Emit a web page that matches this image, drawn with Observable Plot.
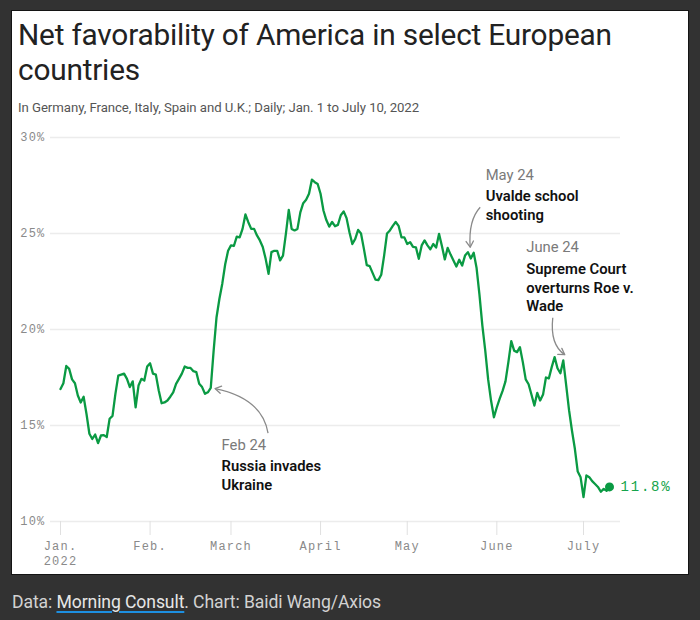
<!DOCTYPE html>
<html>
<head>
<meta charset="utf-8">
<script src="https://cdn.jsdelivr.net/npm/d3@7"></script>
<script src="https://cdn.jsdelivr.net/npm/@observablehq/plot@0.6"></script>
<style>
  html, body { margin: 0; padding: 0; background: #323232; width: 700px; height: 620px; overflow: hidden; }
  #card { position: absolute; left: 11px; top: 10px; width: 678px; height: 565px; background: #fff; border: 1px solid #141414; box-sizing: border-box; }
  #title { position: absolute; left: 18px; top: 17px; width: 660px; margin: 0; font-family: Roboto, sans-serif; font-weight: 400; font-size: 29.8px; line-height: 35px; color: #222; letter-spacing: -0.2px; }
  #subtitle { position: absolute; left: 18px; top: 100px; margin: 0; font-family: Roboto, sans-serif; font-size: 13.2px; color: #555; letter-spacing: -0.05px; }
  #chart { position: absolute; left: 0; top: 125px; }
  #footer { position: absolute; left: 12px; top: 592px; font-family: Roboto, sans-serif; font-size: 17.6px; color: #d2d2d2; letter-spacing: -0.1px; }
  #footer span.src { color: #e6e6e6; text-decoration: underline; text-decoration-color: #1d8fe0; text-decoration-thickness: 2px; text-underline-offset: 3px; }
  .chart g[aria-label="y-axis tick label"] text, .chart g[aria-label="x-axis tick label"] text, .chart .year text { letter-spacing: 1.2px; }
  .chart .endlabel text { letter-spacing: 1.8px; }
</style>
</head>
<body>
<div id="card"></div>
<h1 id="title">Net favorability of America in select European countries</h1>
<p id="subtitle">In Germany, France, Italy, Spain and U.K.; Daily; Jan. 1 to July 10, 2022</p>
<div id="chart"></div>
<div id="footer">Data: <span class="src">Morning Consult</span>. Chart: Baidi Wang/Axios</div>
<script>
// ---- Data ----
const startDate = "2022-01-01";
// Daily net favorability (%), Jan 1 – Jul 10, 2022
const favorability = [
  16.9, 17.2, 18.1, 17.95, 17.4, 17.2, 16.56, 16.2, 16.5, 15.6,
  14.57, 14.3, 14.53, 14.08, 14.48, 14.5, 14.4, 15.35, 15.5, 16.65,
  17.6, 17.65, 17.7, 17.43, 17.0, 17.3, 15.95, 17.08, 17.43, 17.34,
  18.07, 18.24, 17.7, 17.65, 16.82, 16.16, 16.2, 16.3, 16.5, 16.73,
  17.17, 17.43, 17.7, 18.07, 18.0, 18.0, 17.83, 17.78, 17.17, 17.0,
  16.65, 16.73, 16.96, 18.9, 20.64, 21.6, 22.4, 23.4, 24.1, 24.38,
  24.35, 24.84, 24.8, 25.24, 25.99, 25.59, 25.24, 25.24, 24.9, 24.64,
  24.3, 23.68, 22.9, 24.03, 24.1, 24.1, 23.6, 23.85, 24.98, 26.23,
  25.24, 25.16, 25.24, 26.1, 26.58, 26.76, 27.07, 27.8, 27.67, 27.58,
  27.07, 26.2, 25.7, 25.36, 25.6, 25.38, 25.45, 25.95, 26.15, 25.8,
  25.07, 24.45, 24.72, 25.19, 25.0, 24.2, 23.35, 23.3, 22.95, 22.6,
  22.57, 22.85, 23.85, 25.0, 25.16, 25.4, 25.6, 25.4, 24.8, 24.8,
  24.45, 24.55, 24.3, 24.28, 23.68, 24.38, 24.64, 24.38, 24.18, 24.45,
  24.27, 24.98, 24.35, 23.65, 24.25, 23.9, 23.59, 23.28, 23.63, 23.33,
  23.85, 24.03, 23.7, 24.0, 23.2, 21.8, 20.2, 18.9, 17.4, 16.3,
  15.43, 15.95, 16.4, 16.8, 17.3, 18.3, 19.39, 18.9, 18.82, 19.08,
  18.3, 17.4, 17.15, 16.6, 16.04, 16.7, 16.3, 16.61, 17.5, 17.45,
  18.04, 18.56, 17.98, 17.72, 18.39, 17.1, 15.8, 14.74, 13.8, 12.6,
  12.3, 11.27, 12.4, 12.31, 12.1, 11.95, 11.8, 11.55, 11.7, 11.6,
  11.8
];
const yTicks = [10, 15, 20, 25, 30];
const monthTicks = ["2022-01-01", "2022-02-01", "2022-03-01", "2022-04-01", "2022-05-01", "2022-06-01", "2022-07-01"];
const monthLabels = ["Jan.", "Feb.", "March", "April", "May", "June", "July"];
const yearLabel = "2022";

const eventDates = ["2022-02-24", "2022-05-24", "2022-06-24"];
const eventValues = [16.9, 24.0, 18.4];
const eventWhen = ["Feb 24", "May 24", "June 24"];
const eventWhat = ["Russia invades\nUkraine", "Uvalde school\nshooting", "Supreme Court\noverturns Roe v.\nWade"];

// ---- Layout / style ----
const green = "#0a9a43";
const mono = "'Liberation Mono', 'DejaVu Sans Mono', monospace";
const sans = "Roboto, sans-serif";
const annSize = 14.8;
const labelOffsets = [[5, 60.5], [12, -73], [-37, -108]];   // date-line baseline, relative to anchor (px)
const arrowGeom = [
  {start: [52, 44.5], ctrl: [46, 9.5], tip: [-1, 0]},
  {start: [7, -45], ctrl: [-5, -32], tip: [-3, -5]},
  {start: [-10, -42], ctrl: [-13, -15], tip: [2, -5]}
];

const data = favorability.map((v, i) => ({date: d3.utcDay.offset(new Date(startDate), i), value: v}));
const last = data[data.length - 1];
const monthDates = monthTicks.map(d => new Date(d));

const eventMarks = [];
eventDates.forEach((d, i) => {
  const [ox, oy] = labelOffsets[i];
  eventMarks.push(Plot.text([i], {
    x: () => new Date(d), y: () => eventValues[i], text: () => eventWhen[i],
    dx: ox, dy: oy - annSize * 0.71, textAnchor: "start", lineAnchor: "top",
    fill: "#7a7a7a", fontSize: annSize, fontFamily: sans
  }));
  eventMarks.push(Plot.text([i], {
    x: () => new Date(d), y: () => eventValues[i], text: () => eventWhat[i],
    dx: ox, dy: oy + 19 - annSize * 0.71, textAnchor: "start", lineAnchor: "top",
    lineHeight: 18.7 / annSize, fill: "#111", fontWeight: 600, fontSize: annSize, fontFamily: sans
  }));
});

const chart = Plot.plot({
  className: "chart",
  width: 700,
  height: 450,
  marginTop: 12,
  marginBottom: 54,
  marginLeft: 50,
  marginRight: 80,
  style: {background: "transparent", overflow: "visible"},
  x: {type: "utc", domain: [monthDates[0], monthDates[6]], range: [60, 583], label: null},
  y: {domain: [10, 30], label: null},
  marks: [
    Plot.gridY(yTicks, {stroke: "#ececec", strokeOpacity: 1, strokeWidth: 1.5}),
    Plot.axisY(yTicks, {tickSize: 0, tickPadding: 5, tickFormat: d => d + "%", fontFamily: mono, fontSize: 12, fill: "#8a8a8a", label: null}),
    Plot.axisX(monthDates, {tickSize: 14, tickPadding: 6, tickFormat: d => monthLabels[d.getUTCMonth()], stroke: "#e0e0e0", strokeOpacity: 1, fill: "#8a8a8a", fontFamily: mono, fontSize: 12, label: null}),
    Plot.text([monthDates[0]], {x: d => d, frameAnchor: "bottom", lineAnchor: "top", dy: 35, text: () => yearLabel, fill: "#8a8a8a", fontFamily: mono, fontSize: 12, className: "year"}),
    Plot.line(data, {x: "date", y: "value", stroke: green, strokeWidth: 2.3, strokeLinejoin: "round"}),
    Plot.dot([last], {x: "date", y: "value", r: 4.5, fill: green}),
    Plot.text([last], {x: "date", y: "value", text: d => d.value.toFixed(1) + "%", dx: 11, textAnchor: "start", fill: "#16a44c", fontFamily: mono, fontSize: 14, className: "endlabel"}),
    ...eventMarks
  ]
});

document.getElementById("chart").appendChild(chart);

// Curved annotation arrows, positioned through the plot's own scales
const sx = chart.scale("x"), sy = chart.scale("y");
const svg = d3.select(chart);
eventDates.forEach((d, i) => {
  const ax = sx.apply(new Date(d)), ay = sy.apply(eventValues[i]);
  const g = arrowGeom[i];
  const s = [ax + g.start[0], ay + g.start[1]];
  const c = [ax + g.ctrl[0], ay + g.ctrl[1]];
  const t = [ax + g.tip[0], ay + g.tip[1]];
  svg.append("path")
    .attr("d", `M${s[0]},${s[1]}Q${c[0]},${c[1]} ${t[0]},${t[1]}`)
    .attr("fill", "none").attr("stroke", "#8a8a8a").attr("stroke-width", 1.3);
  const ang = Math.atan2(t[1] - c[1], t[0] - c[0]);
  const L = 7, w = 0.55;
  const p1 = [t[0] - L * Math.cos(ang - w), t[1] - L * Math.sin(ang - w)];
  const p2 = [t[0] - L * Math.cos(ang + w), t[1] - L * Math.sin(ang + w)];
  svg.append("path")
    .attr("d", `M${p1[0]},${p1[1]}L${t[0]},${t[1]}L${p2[0]},${p2[1]}`)
    .attr("fill", "none").attr("stroke", "#8a8a8a").attr("stroke-width", 1.3)
    .attr("stroke-linejoin", "round").attr("stroke-linecap", "round");
});
</script>
</body>
</html>
